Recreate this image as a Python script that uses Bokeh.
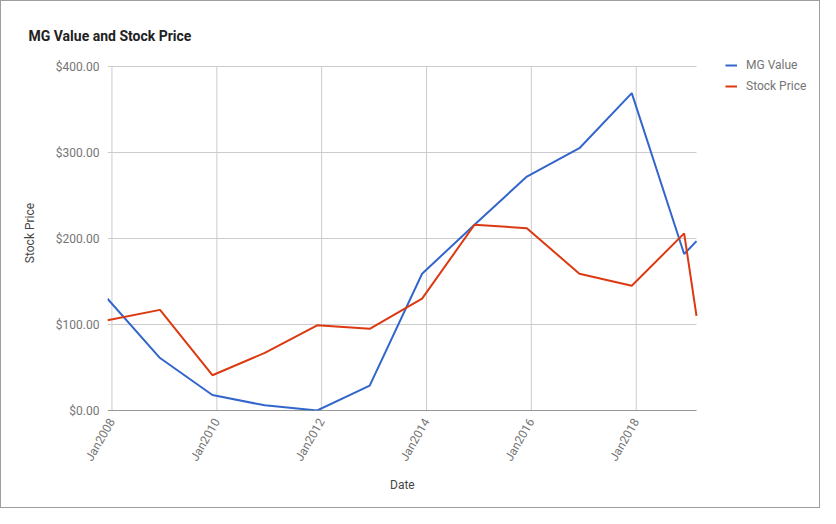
import math
import pandas as pd
from bokeh.plotting import figure
from bokeh.models import (Range1d, FixedTicker, NumeralTickFormatter, Legend,
                          LegendItem, ColumnDataSource, DatetimeTickFormatter, Title)
from bokeh.embed import file_html
from bokeh.resources import INLINE

# ---- data ----
dates = ["2007-12-01", "2008-12-01", "2009-12-01", "2010-12-01", "2011-12-01",
         "2012-12-01", "2013-12-01", "2014-12-01", "2015-12-01", "2016-12-01",
         "2017-12-01", "2018-12-01", "2019-02-25"]
mg_value = [130, 61, 18, 6, 0, 29, 159, 216, 272, 305, 369, 182, 197]
stock_price = [105, 117, 41, 67, 99, 95, 130, 216, 212, 159, 145, 206, 110]
tick_dates = ["2008-01-01", "2010-01-01", "2012-01-01", "2014-01-01",
              "2016-01-01", "2018-01-01"]
tick_labels = ["Jan2008", "Jan2010", "Jan2012", "Jan2014", "Jan2016", "Jan2018"]
y_ticks = [0, 100, 200, 300, 400]

FONT = "Roboto"

# ---- layout (pixels) ----
W, H = 820, 508
LEFT, RIGHT, TOP, BOTTOM = 106, 5, 54, 99
PLOT_W = 589          # width used by the data (first to last date)
PLOT_TOP_GAP = 11     # space between frame top and the $400 line

x = pd.to_datetime(dates)
src = ColumnDataSource(dict(x=x, mg=mg_value, sp=stock_price))

frame_w = W - LEFT - RIGHT
frame_h = H - TOP - BOTTOM
x0 = x[0].value / 1e6
x1 = x[-1].value / 1e6
ms_per_px = (x1 - x0) / PLOT_W
x_end = x0 + frame_w * ms_per_px
y_top = y_ticks[-1] * frame_h / (frame_h - PLOT_TOP_GAP)

p = figure(width=W, height=H, output_backend="svg", toolbar_location=None,
           x_axis_type="datetime",
           x_range=Range1d(x0, x_end), y_range=Range1d(0, y_top),
           min_border_left=LEFT, min_border_right=RIGHT, min_border_top=TOP,
           min_border_bottom=BOTTOM, title="MG Value and Stock Price")
p.styles = {"border": "1px solid #9e9e9e"}
p.outline_line_color = None
p.background_fill_color = "white"
p.border_fill_color = "white"
p.xgrid.visible = False
p.ygrid.visible = False

p.title.text_font = FONT
p.title.text_font_size = "14px"
p.title.text_font_style = "bold"
p.title.text_color = "#222222"
p.title.align = "left"
p.title.offset = -79
p.title.standoff = 24

# grid lines limited to the data area
tick_ms = [pd.Timestamp(d).value / 1e6 for d in tick_dates]
p.segment(x0=tick_ms, y0=[y_ticks[0]] * len(tick_ms), x1=tick_ms,
          y1=[y_ticks[-1]] * len(tick_ms), line_color="#cccccc", line_width=1)
p.segment(x0=[x0] * (len(y_ticks) - 1), y0=y_ticks[1:], x1=[x1] * (len(y_ticks) - 1),
          y1=y_ticks[1:], line_color="#cccccc", line_width=1)
p.segment(x0=[x0], y0=[y_ticks[0]], x1=[x1], y1=[y_ticks[0]],
          line_color="#333333", line_width=1)

r1 = p.line("x", "mg", source=src, line_color="#3366cc", line_width=2)
r2 = p.line("x", "sp", source=src, line_color="#dc3912", line_width=2)

# axes
xa = p.xaxis[0]
xa.ticker = FixedTicker(ticks=tick_ms)
xa.formatter = DatetimeTickFormatter(years="%b%Y", months="%b%Y", days="%b%Y")
xa.major_label_overrides = {t: l for t, l in zip(tick_ms, tick_labels)}
xa.major_label_orientation = math.pi / 3
xa.axis_line_color = None
xa.major_tick_line_color = None
xa.minor_tick_line_color = None
xa.major_label_standoff = 3

ya = p.yaxis[0]
ya.ticker = FixedTicker(ticks=y_ticks)
ya.formatter = NumeralTickFormatter(format="$0.00")
ya.axis_label = "Stock Price"
ya.axis_line_color = None
ya.major_tick_line_color = None
ya.minor_tick_line_color = None
ya.major_label_standoff = 2
ya.axis_label_standoff = 16

for ax in (xa, ya):
    ax.major_label_text_font = FONT
    ax.major_label_text_font_size = "12px"
    ax.major_label_text_color = "#757575"
    ax.axis_label_text_font = FONT
    ax.axis_label_text_font_size = "12px"
    ax.axis_label_text_font_style = "normal"
    ax.axis_label_text_color = "#444444"

# x-axis title, centred under the data area
date_title = Title(text="Date", align="left", offset=PLOT_W / 2 - 12, standoff=12,
                   text_font=FONT, text_font_size="12px", text_font_style="normal",
                   text_color="#444444")
p.add_layout(date_title, "below")

legend = Legend(items=[LegendItem(label="MG Value", renderers=[r1]),
                       LegendItem(label="Stock Price", renderers=[r2])],
                location=(PLOT_W + 29, frame_h - 41), border_line_color=None,
                background_fill_alpha=0,
                padding=0, margin=0, spacing=1, glyph_width=12, glyph_height=20,
                label_height=20, label_standoff=9, label_text_font=FONT,
                label_text_font_size="12px", label_text_color="#757575")
p.add_layout(legend)

open("out.html", "w").write(file_html(p, INLINE))
